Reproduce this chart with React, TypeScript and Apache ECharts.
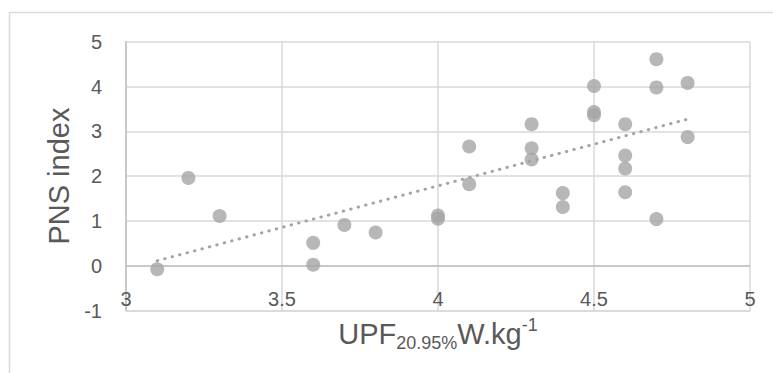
import React, { useEffect, useRef } from "react";
import * as echarts from "echarts";

const xValues = [3.1, 3.2, 3.3, 3.6, 3.6, 3.7, 3.8, 4.0, 4.0, 4.1, 4.1, 4.3, 4.3, 4.3, 4.4, 4.4, 4.5, 4.5, 4.5, 4.6, 4.6, 4.6, 4.6, 4.7, 4.7, 4.7, 4.8, 4.8];
const yValues = [-0.08, 1.96, 1.11, 0.51, 0.02, 0.91, 0.74, 1.05, 1.12, 2.66, 1.82, 3.16, 2.62, 2.37, 1.62, 1.31, 4.01, 3.43, 3.36, 3.16, 2.46, 2.17, 1.64, 4.61, 3.98, 1.04, 4.08, 2.87];
const trendX = [3.1, 4.8];
const trendY = [0.11, 3.27];
const xTicks = { min: 3, max: 5, interval: 0.5 };
const yTicks = { min: -1, max: 5, interval: 1 };
const yTitle = "PNS index";
const xTitleParts = ["UPF", "20.95%", "W.kg", "-1"];
const zeroLine = 0;

const FONT = "Arial, 'Liberation Sans', sans-serif";
const TXT = "#595959";
const GRID = "#D9D9D9";
const AXIS = "#BFBFBF";
const MARK = "#A5A5A5";

export default function App() {
  const ref = useRef<HTMLDivElement>(null);
  useEffect(() => {
    if (!ref.current) return;
    const chart = echarts.init(ref.current, undefined, { renderer: "svg" });
    chart.setOption({
      animation: false,
      backgroundColor: "#ffffff",
      graphic: [
        {
          type: "rect",
          shape: { x: 9.5, y: 12.5, width: 800, height: 400 },
          style: { fill: "none", stroke: GRID, lineWidth: 1.5 },
          z: -10,
          silent: true,
        },
      ],
      grid: { left: 126, right: 23, top: 41.7, bottom: 62.5, containLabel: false, outerBoundsMode: "none" },
      xAxis: {
        type: "value",
        min: xTicks.min,
        max: xTicks.max,
        interval: xTicks.interval,
        axisLine: { show: true, onZero: false, lineStyle: { color: GRID, width: 1.5 } },
        axisTick: { show: false },
        splitLine: { show: true, lineStyle: { color: GRID, width: 1.5 } },
        axisLabel: { color: TXT, fontSize: 20, fontFamily: FONT, margin: 2, inside: true },
        name: `{a|${xTitleParts[0]}}{b|${xTitleParts[1]}}{a|${xTitleParts[2]}}{c|${xTitleParts[3]}}`,
        nameLocation: "middle",
        nameGap: 5,
        nameTextStyle: {
          color: TXT,
          fontFamily: FONT,
          rich: {
            a: { fontSize: 29, lineHeight: 36, color: TXT, fontFamily: FONT },
            b: { fontSize: 18, lineHeight: 14, verticalAlign: "bottom", color: TXT, fontFamily: FONT },
            c: { fontSize: 18, lineHeight: 26, verticalAlign: "top", color: TXT, fontFamily: FONT },
          },
        },
      },
      yAxis: {
        type: "value",
        min: yTicks.min,
        max: yTicks.max,
        interval: yTicks.interval,
        axisLine: { show: true, onZero: false, lineStyle: { color: AXIS, width: 1.5 } },
        axisTick: { show: false },
        splitLine: { show: true, lineStyle: { color: GRID, width: 1.5 } },
        axisLabel: { color: TXT, fontSize: 20, fontFamily: FONT, margin: 24 },
        name: yTitle,
        nameLocation: "middle",
        nameGap: 46,
        nameTextStyle: { color: TXT, fontSize: 29, fontFamily: FONT },
      },
      series: [
        {
          type: "scatter",
          data: xValues.map((x, i) => [x, yValues[i]]),
          symbol: "circle",
          symbolSize: 14,
          itemStyle: { color: MARK },
          z: 2,
          markLine: {
            silent: true,
            symbol: "none",
            label: { show: false },
            lineStyle: { color: AXIS, width: 1.5, type: "solid" },
            data: [{ yAxis: zeroLine }],
            z: 1,
          },
        },
        {
          type: "line",
          data: trendX.map((x, i) => [x, trendY[i]]),
          symbol: "none",
          lineStyle: { color: MARK, width: 3, type: [0.5, 7.2], cap: "round" },
          z: 3,
        },
      ],
    });
    return () => chart.dispose();
  }, []);
  return (
    <div
      ref={ref}
      style={{ position: "absolute", left: 0, top: 0, width: 773, height: 373, background: "#fff" }}
    />
  );
}
